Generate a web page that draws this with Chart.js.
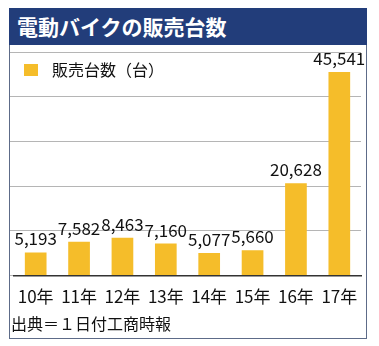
<!DOCTYPE html>
<html>
<head>
<meta charset="utf-8">
<script src="https://cdn.jsdelivr.net/npm/chart.js@4.4.0/dist/chart.umd.min.js"></script>
<style>
  body { margin: 0; background: #fff; }
  #wrap { position: relative; width: 379px; height: 346px; }
  #frame { position: absolute; left: 9px; top: 8px; width: 356px; height: 330px; border: 1px solid #5d6b88; border-top: none; }
  #title { position: absolute; left: 9px; top: 8px; width: 358px; height: 37px; background: #223d7a; color: #fff;
           font: bold 21px "Noto Sans CJK JP", sans-serif; line-height: 37px; padding-left: 8px; box-sizing: border-box; }
  #source { position: absolute; left: 11px; top: 311px; font: 16px "Noto Sans CJK JP", sans-serif; color: #111; }
  canvas { position: absolute; left: 0; top: 0; }
</style>
</head>
<body>
<div id="wrap">
  <div id="frame"></div>
  <div id="title">電動バイクの販売台数</div>
  <canvas id="myBarChart" width="379" height="346"></canvas>
  <div id="source">出典＝１日付工商時報</div>
</div>
<script>
const years = ["10年", "11年", "12年", "13年", "14年", "15年", "16年", "17年"];
const sales = [5193, 7582, 8463, 7160, 5077, 5660, 20628, 45541];
const seriesName = "販売台数（台）";

// value labels over the bars + legend drawn inside the plot area
const barLabels = {
    id: "barLabels",
    afterDatasetsDraw(chart) {
        const ctx = chart.ctx;
        const meta = chart.getDatasetMeta(0);
        const area = chart.chartArea;
        const ds = chart.data.datasets[0];
        ctx.save();
        ctx.font = '17px "Noto Sans CJK JP", sans-serif';
        ctx.fillStyle = "#111";
        ctx.textAlign = "center";
        ctx.textBaseline = "alphabetic";
        meta.data.forEach((bar, i) => {
            ctx.fillText(sales[i].toLocaleString("en-US"), bar.x, bar.y - 7);
        });
        // legend
        ctx.font = '16px "Noto Sans CJK JP", sans-serif';
        ctx.fillStyle = ds.backgroundColor;
        ctx.fillRect(area.left + 10, area.top + 12, 14, 12);
        ctx.fillStyle = "#111";
        ctx.textAlign = "left";
        ctx.textBaseline = "middle";
        ctx.fillText(ds.label, area.left + 38, area.top + 18);
        ctx.restore();
    }
};

new Chart(document.getElementById("myBarChart"), {
    type: "bar",
    data: {
        labels: years,
        datasets: [{
            label: seriesName,
            data: sales,
            backgroundColor: "#f5bd2a",
            barPercentage: 0.5,
            categoryPercentage: 1,
        }],
    },
    options: {
        responsive: false,
        animation: false,
        layout: { padding: { left: 10, right: 18, top: 52, bottom: 36 } },
        plugins: {
            legend: { display: false },
            tooltip: { enabled: false },
        },
        scales: {
            x: {
                grid: { display: false },
                border: { color: "#333", width: 1.5 },
                ticks: { color: "#111", padding: 3, font: { family: "Noto Sans CJK JP", size: 17 } },
            },
            y: {
                min: 0,
                max: 50000,
                ticks: { display: false, stepSize: 10000 },
                grid: { color: "#b5b5b5", tickLength: 4 },
                border: { display: false },
            },
        },
    },
    plugins: [barLabels],
});
</script>
</body>
</html>
